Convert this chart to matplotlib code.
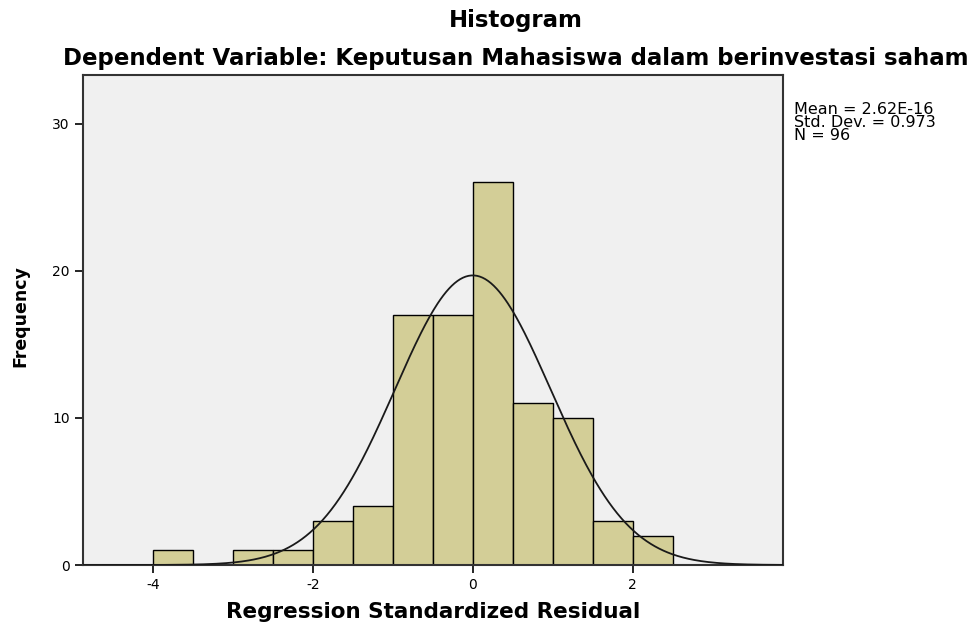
import numpy as np
import matplotlib
matplotlib.use("Agg")
import matplotlib.pyplot as plt

bin_edges = [-4.0, -3.5, -3.0, -2.5, -2.0, -1.5, -1.0, -0.5, 0.0, 0.5, 1.0, 1.5, 2.0, 2.5]
counts = [1, 0, 1, 1, 3, 4, 17, 17, 26, 11, 10, 3, 2]
mean = 2.62e-16
std = 0.973
n = 96
x_ticks = [-4, -2, 0, 2]
x_tick_labels = ['-4', '-2', '0', '2']
y_ticks = [0, 10, 20, 30]
y_tick_labels = ['0', '10', '20', '30']

plt.rcParams['font.family'] = ['DejaVu Sans']

fig = plt.figure(figsize=(9.77, 6.28), dpi=100)
ax = fig.add_axes([0.085, 0.1003, 0.716, 0.7803])
ax.set_facecolor('#f0f0f0')

lefts = np.array(bin_edges[:-1])
widths = np.diff(bin_edges)
ax.bar(lefts, counts, width=widths, align='edge', color='#d3ce97',
       edgecolor='black', linewidth=1.0, zorder=2)

xs = np.linspace(-4.875, 3.875, 500)
bw = widths[0]
ys = n * bw / (std * np.sqrt(2 * np.pi)) * np.exp(-0.5 * ((xs - mean) / std) ** 2)
ax.plot(xs, ys, color='#1a1a1a', linewidth=1.3, zorder=3)

ax.set_xlim(-4.875, 3.875)
ax.set_ylim(0, 33.3)
ax.set_xticks(x_ticks)
ax.set_xticklabels(x_tick_labels)
ax.set_yticks(y_ticks)
ax.set_yticklabels(y_tick_labels)
ax.tick_params(direction='out', length=6, width=1.2, labelsize=10, colors='black')
for s in ax.spines.values():
    s.set_linewidth(1.5)
    s.set_color('#333333')

ax.set_xlabel('Regression Standardized Residual', fontsize=15.5, fontweight='bold', labelpad=7)
fig.text(0.021, 0.497, 'Frequency', rotation=90, ha='center', va='center',
         fontsize=12.5, fontweight='bold')

fig.text(0.528, 0.968, 'Histogram', ha='center', va='center', fontsize=16.5, fontweight='bold')
fig.text(0.528, 0.907, 'Dependent Variable: Keputusan Mahasiswa dalam berinvestasi saham',
         ha='center', va='center', fontsize=16.5, fontweight='bold')

fig.text(0.813, 0.838, 'Mean = 2.62E-16\nStd. Dev. = 0.973\nN = 96', ha='left', va='top',
         fontsize=11.5, linespacing=0.85)

fig.savefig('out.png', dpi=100)
